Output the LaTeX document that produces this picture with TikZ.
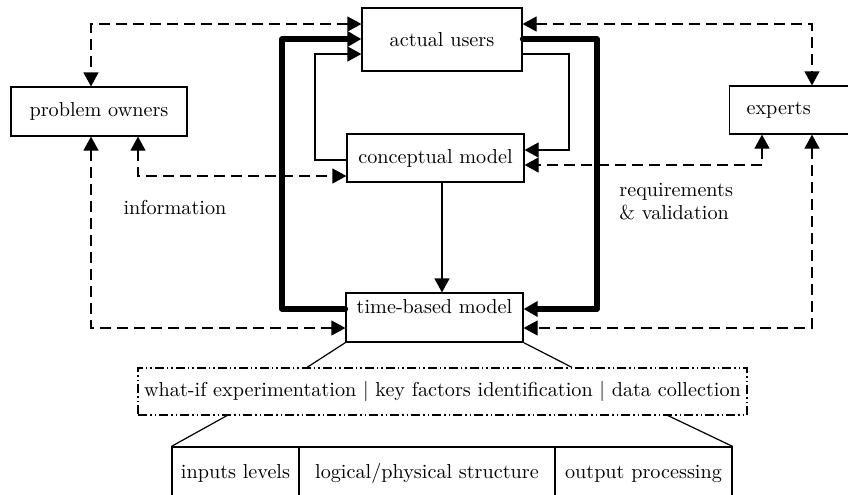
\documentclass[tikz,border=0pt]{standalone}
\usetikzlibrary{arrows.meta}
\begin{document}
\begin{tikzpicture}[x=0.5pt,y=-0.5pt,
  box/.style={draw,line width=0.6pt,inner sep=0pt,font=\fontsize{10.1}{13}\selectfont},
  wire/.style={line width=0.6pt},
  dsh/.style={line width=0.6pt,dash pattern=on 5.5pt off 3pt},
  ddash/.style={dash pattern=on 4.5pt off 1.5pt on 0.75pt off 1.5pt on 0.75pt off 1.5pt},
  thk/.style={line width=2.7pt,line cap=round,line join=round},
  tip/.style={-{Triangle[length=7pt,width=7.5pt]}},
  tips/.style={{Triangle[length=7pt,width=7.5pt]}-{Triangle[length=7pt,width=7.5pt]}},
  lbl/.style={font=\fontsize{10.1}{11.5}\selectfont,inner sep=0pt}]
\useasboundingbox (0,0) rectangle (848,494);

% boxes
\node[box,minimum width=80pt,minimum height=31.5pt] (au) at (442,39.5) {actual users};
\node[box,minimum width=88.5pt,minimum height=24pt] (cm) at (435.5,158) {conceptual model};
\node[box,minimum width=88pt,minimum height=24.5pt] (po) at (99,111.5) {problem owners};
\node[box,anchor=west,text width=53.5pt,inner xsep=8.5pt,minimum height=24pt,align=left] (ex) at (729,110) {experts};
\node[box,minimum width=88.5pt,text height=10pt,text depth=14.5pt] (tb) at (434.5,317.5) {time-based model};
\node[box,ddash,minimum width=304.5pt,minimum height=23.5pt] (dd) at (442.5,391.5) {what-if experimentation | key factors identification | data collection};
\node[box,minimum width=63.5pt,minimum height=26.5pt] (c1) at (235.5,473.5) {inputs levels};
\node[box,minimum width=128pt,minimum height=26.5pt] (c2) at (427,473.5) {logical/physical structure};
\node[box,minimum width=88.5pt,minimum height=26.5pt] (c3) at (643.5,473.5) {output processing};

% dashed information links
\draw[dsh,tips] (au.west |- 0,24) -| (91,0 |- po.north);
\draw[dsh,tips] (au.east |- 0,24) -| (812,0 |- ex.north);
\draw[dsh,tips] (138,0 |- po.south) -- (138,176) -- (cm.west |- 0,176);
\draw[dsh,tips] (762,0 |- ex.south) -- (762,165) -- (cm.east |- 0,165);
\draw[dsh,tips] (91,0 |- po.south) -- (91,328) -- (tb.west |- 0,328);
\draw[dsh,tips] (812,0 |- ex.south) -- (812,328) -- (tb.east |- 0,328);

% thick loops
\draw[thk,tip] (tb.west |- 0,309) -- (282,309) -- (282,39) -- (au.west |- 0,39);
\draw[thk,tip] (au.east |- 0,39) -- (597,39) -- (597,309) -- (tb.east |- 0,309);

% thin loops
\draw[wire,tip] (au.east |- 0,54) -- (569,54) -- (569,150) -- (cm.east |- 0,150);
\draw[wire,tip] (cm.west |- 0,160) -- (315,160) -- (315,54) -- (au.west |- 0,54);
\draw[wire,tip] (442,0 |- cm.south) -- (442,0 |- tb.north);

% zoom lines
\draw[wire] (tb.south west) -- (307,0 |- dd.north);
\draw[wire] (tb.south east) -- (572,0 |- dd.north);
\draw[wire] (227,0 |- dd.south) -- (c1.north west);
\draw[wire] (668,0 |- dd.south) -- (c3.north east);

% labels
\node[lbl] (info) at (175,207) {information};
\node[lbl,align=left,anchor=west] (req) at (619,201.5) {requirements\\\& validation};
\end{tikzpicture}
\end{document}
